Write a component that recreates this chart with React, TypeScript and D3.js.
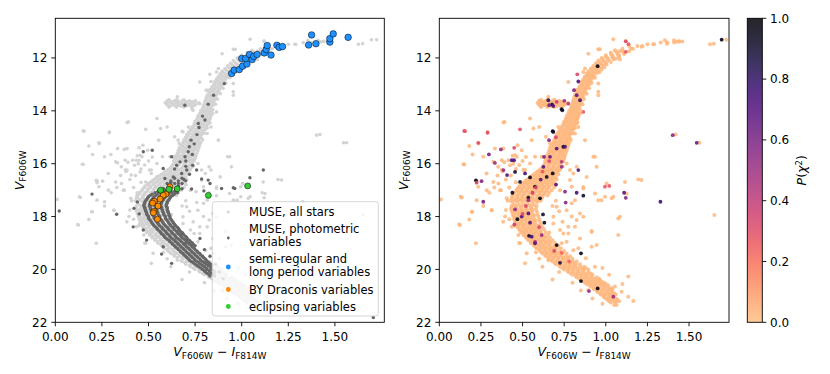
import React from "react";
import * as d3 from "d3";

// colour V-I and magnitude V
// main sequence band of all stars: [V, colours...]
const msRows: [number, number[]][] = [
  [17.55, [0.45, 0.48, 0.51, 0.54, 0.57]],
  [17.65, [0.46, 0.49, 0.52, 0.55]],
  [17.75, [0.44, 0.47, 0.5, 0.53, 0.56]],
  [17.85, [0.455, 0.485, 0.515, 0.545]],
  [17.95, [0.45, 0.48, 0.51, 0.54, 0.57]],
  [18.05, [0.46, 0.49, 0.52, 0.555]],
  [18.15, [0.465, 0.495, 0.525, 0.555, 0.58]],
  [18.25, [0.47, 0.5, 0.535, 0.565]],
  [18.35, [0.475, 0.505, 0.54, 0.57, 0.595]],
  [18.45, [0.485, 0.52, 0.55, 0.58]],
  [18.55, [0.495, 0.525, 0.555, 0.585, 0.61]],
  [18.65, [0.51, 0.54, 0.57, 0.6]],
  [18.75, [0.52, 0.55, 0.58, 0.61, 0.635]],
  [18.85, [0.535, 0.565, 0.595, 0.625]],
  [18.95, [0.55, 0.58, 0.61, 0.64, 0.665]],
  [19.05, [0.565, 0.595, 0.625, 0.655]],
  [19.15, [0.58, 0.61, 0.64, 0.67, 0.695]],
  [19.25, [0.6, 0.63, 0.66, 0.69]],
  [19.35, [0.615, 0.645, 0.675, 0.705, 0.73]],
  [19.45, [0.635, 0.665, 0.695, 0.725]],
  [19.55, [0.655, 0.685, 0.715, 0.745, 0.77]],
  [19.65, [0.675, 0.705, 0.735, 0.765]],
  [19.75, [0.695, 0.725, 0.755, 0.785, 0.81]],
  [19.85, [0.72, 0.75, 0.78, 0.81]],
  [19.95, [0.74, 0.77, 0.8, 0.83, 0.86]],
  [20.05, [0.77, 0.8, 0.83, 0.86]],
  [20.15, [0.79, 0.82, 0.85, 0.88, 0.91]],
  [20.25, [0.82, 0.85, 0.88, 0.91]],
  [20.35, [0.84, 0.87, 0.9, 0.93, 0.96]],
  [20.45, [0.865, 0.895, 0.925, 0.955]],
  [20.55, [0.885, 0.915, 0.945, 0.975, 1.0]],
  [20.65, [0.91, 0.94, 0.97, 1.0]],
  [20.75, [0.93, 0.96, 0.99, 1.02, 1.04]],
  [20.85, [0.95, 0.98, 1.01, 1.04]],
  [20.95, [0.97, 1.0, 1.03, 1.06]],
  [21.05, [0.99, 1.02, 1.05]],
  [21.15, [1.01, 1.04, 1.07]],
  [21.25, [1.03, 1.06]],
  [21.35, [1.05]],
];
const msRowsB: [number, number[]][] = [
  [17.6, [0.435, 0.465, 0.495, 0.525, 0.555, 0.585]],
  [17.7, [0.43, 0.46, 0.49, 0.52, 0.55, 0.58]],
  [17.8, [0.435, 0.465, 0.495, 0.525, 0.555, 0.585]],
  [17.9, [0.44, 0.47, 0.5, 0.53, 0.56, 0.59]],
  [18.0, [0.445, 0.475, 0.505, 0.535, 0.565, 0.595]],
  [18.1, [0.45, 0.48, 0.51, 0.54, 0.57, 0.6]],
  [18.2, [0.455, 0.485, 0.515, 0.545, 0.575, 0.605]],
  [18.3, [0.46, 0.49, 0.52, 0.55, 0.58, 0.61]],
  [18.4, [0.47, 0.5, 0.53, 0.56, 0.59, 0.62]],
  [18.5, [0.48, 0.51, 0.54, 0.57, 0.6, 0.63]],
  [18.6, [0.49, 0.52, 0.55, 0.58, 0.61, 0.64]],
  [18.7, [0.505, 0.535, 0.565, 0.595, 0.625, 0.655]],
  [18.8, [0.52, 0.55, 0.58, 0.61, 0.64, 0.665]],
  [18.9, [0.535, 0.565, 0.595, 0.625, 0.655, 0.68]],
  [19.0, [0.55, 0.58, 0.61, 0.64, 0.67, 0.695]],
  [19.1, [0.57, 0.6, 0.63, 0.66, 0.69, 0.715]],
  [19.2, [0.585, 0.615, 0.645, 0.675, 0.705, 0.73]],
  [19.3, [0.605, 0.635, 0.665, 0.695, 0.725, 0.75]],
  [19.4, [0.62, 0.65, 0.68, 0.71, 0.74, 0.765]],
  [19.5, [0.64, 0.67, 0.7, 0.73, 0.76, 0.785]],
  [19.6, [0.655, 0.685, 0.715, 0.745, 0.775, 0.8]],
  [19.7, [0.68, 0.71, 0.74, 0.77, 0.8, 0.825]],
  [19.8, [0.7, 0.73, 0.76, 0.79, 0.82, 0.845]],
  [19.9, [0.725, 0.755, 0.785, 0.815, 0.845, 0.87]],
  [20.0, [0.75, 0.78, 0.81, 0.84, 0.87, 0.895]],
  [20.1, [0.775, 0.805, 0.835, 0.865, 0.895]],
  [20.2, [0.8, 0.83, 0.86, 0.89, 0.92]],
  [20.3, [0.825, 0.855, 0.885, 0.915, 0.945]],
  [20.4, [0.85, 0.88, 0.91, 0.94, 0.965]],
  [20.5, [0.875, 0.905, 0.935, 0.965, 0.99]],
  [20.6, [0.9, 0.93, 0.96, 0.99, 1.015]],
  [20.7, [0.925, 0.955, 0.985, 1.015, 1.035]],
  [20.8, [0.945, 0.975, 1.005, 1.03]],
  [20.9, [0.965, 0.995, 1.025, 1.05]],
  [21.0, [0.985, 1.015, 1.045]],
  [21.1, [1.0, 1.03, 1.06]],
  [21.2, [1.02, 1.05, 1.08]],
];

// turnoff and subgiant branch
const toRows: [number, number[]][] = [
  [17.45, [0.44, 0.47, 0.5, 0.53, 0.56, 0.59]],
  [17.35, [0.45, 0.48, 0.51, 0.54, 0.57, 0.6]],
  [17.25, [0.44, 0.47, 0.5, 0.53, 0.56, 0.59, 0.62]],
  [17.15, [0.45, 0.48, 0.51, 0.54, 0.57, 0.6, 0.63]],
  [17.05, [0.46, 0.49, 0.52, 0.55, 0.58, 0.61, 0.64]],
  [16.95, [0.47, 0.5, 0.53, 0.56, 0.59, 0.62, 0.65]],
  [16.85, [0.48, 0.51, 0.54, 0.57, 0.6, 0.63, 0.66]],
  [16.75, [0.5, 0.53, 0.56, 0.59, 0.62, 0.65, 0.68]],
  [16.65, [0.52, 0.55, 0.58, 0.61, 0.64, 0.67]],
  [16.55, [0.54, 0.57, 0.6, 0.63, 0.66, 0.69]],
  [16.45, [0.56, 0.59, 0.62, 0.65, 0.68]],
  [16.35, [0.58, 0.61, 0.64, 0.67, 0.7]],
  [16.25, [0.6, 0.63, 0.66, 0.69, 0.72]],
  [16.15, [0.62, 0.65, 0.68, 0.71]],
  [16.05, [0.63, 0.66, 0.69, 0.72]],
];
const toRowsB: [number, number[]][] = [
  [17.4, [0.43, 0.46, 0.49, 0.52, 0.55, 0.58, 0.61]],
  [17.3, [0.435, 0.465, 0.495, 0.525, 0.555, 0.585, 0.615]],
  [17.2, [0.44, 0.47, 0.5, 0.53, 0.56, 0.59, 0.62, 0.65]],
  [17.1, [0.45, 0.48, 0.51, 0.54, 0.57, 0.6, 0.63, 0.66]],
  [17.0, [0.465, 0.495, 0.525, 0.555, 0.585, 0.615, 0.645, 0.675]],
  [16.9, [0.48, 0.51, 0.54, 0.57, 0.6, 0.63, 0.66, 0.69]],
  [16.8, [0.495, 0.525, 0.555, 0.585, 0.615, 0.645, 0.675, 0.7]],
  [16.7, [0.51, 0.54, 0.57, 0.6, 0.63, 0.66, 0.69]],
  [16.6, [0.53, 0.56, 0.59, 0.62, 0.65, 0.68, 0.705]],
  [16.5, [0.55, 0.58, 0.61, 0.64, 0.67, 0.7]],
  [16.4, [0.57, 0.6, 0.63, 0.66, 0.69, 0.715]],
  [16.3, [0.59, 0.62, 0.65, 0.68, 0.71]],
  [16.2, [0.61, 0.64, 0.67, 0.7, 0.725]],
  [16.1, [0.625, 0.655, 0.685, 0.715, 0.74]],
  [16.0, [0.635, 0.665, 0.695, 0.725]],
];

// red giant branch
const rgbRows: [number, number[]][] = [
  [15.95, [0.645, 0.675, 0.705]],
  [15.85, [0.65, 0.68, 0.71, 0.735]],
  [15.75, [0.655, 0.685, 0.715]],
  [15.65, [0.66, 0.69, 0.72, 0.745]],
  [15.55, [0.67, 0.7, 0.73]],
  [15.45, [0.675, 0.705, 0.735, 0.755]],
  [15.35, [0.685, 0.715, 0.745]],
  [15.25, [0.69, 0.72, 0.75, 0.77]],
  [15.15, [0.7, 0.73, 0.76]],
  [15.05, [0.705, 0.735, 0.765, 0.785]],
  [14.95, [0.715, 0.745, 0.775]],
  [14.85, [0.72, 0.75, 0.78, 0.8]],
  [14.75, [0.73, 0.76, 0.79]],
  [14.65, [0.74, 0.77, 0.8, 0.815]],
  [14.55, [0.75, 0.78, 0.81]],
  [14.45, [0.755, 0.785, 0.815, 0.83]],
  [14.35, [0.765, 0.795, 0.82]],
  [14.25, [0.775, 0.8, 0.83]],
  [14.15, [0.78, 0.81, 0.835]],
  [14.05, [0.79, 0.815, 0.84]],
  [13.95, [0.795, 0.82, 0.845]],
  [13.85, [0.8, 0.83]],
  [13.75, [0.805, 0.835, 0.86]],
  [13.65, [0.81, 0.84]],
  [13.55, [0.815, 0.845, 0.87]],
  [13.45, [0.825, 0.855]],
  [13.35, [0.83, 0.86, 0.885]],
  [13.25, [0.84, 0.87]],
  [13.15, [0.845, 0.875, 0.9]],
  [13.05, [0.855, 0.885]],
  [12.95, [0.86, 0.89, 0.915]],
  [12.85, [0.87, 0.9]],
  [12.75, [0.88, 0.91, 0.935]],
  [12.65, [0.89, 0.92]],
  [12.55, [0.9, 0.93, 0.96]],
  [12.45, [0.915, 0.945, 0.975]],
  [12.35, [0.93, 0.96, 0.99]],
  [12.25, [0.945, 0.975, 1.005]],
  [12.15, [0.96, 0.995, 1.03]],
  [12.05, [0.98, 1.015, 1.05]],
  [11.95, [1.0, 1.04, 1.08]],
  [11.85, [1.03, 1.07, 1.11]],
  [11.75, [1.06, 1.1, 1.14]],
  [11.65, [1.1, 1.15]],
  [11.55, [1.14, 1.19, 1.22]],
  [11.48, [1.25, 1.29]],
  [11.42, [1.33, 1.37, 1.41]],
  [11.38, [1.44, 1.46]],
];
const rgbRowsB: [number, number[]][] = [
  [15.9, [0.635, 0.66, 0.69, 0.72, 0.745]],
  [15.8, [0.64, 0.67, 0.7, 0.725, 0.75]],
  [15.7, [0.645, 0.675, 0.705, 0.73, 0.755]],
  [15.6, [0.655, 0.685, 0.715, 0.74, 0.76]],
  [15.5, [0.66, 0.69, 0.72, 0.745, 0.765]],
  [15.4, [0.665, 0.695, 0.725, 0.75, 0.77]],
  [15.3, [0.675, 0.705, 0.73, 0.755, 0.775]],
  [15.2, [0.685, 0.71, 0.735, 0.76, 0.78]],
  [15.1, [0.69, 0.72, 0.745, 0.77, 0.79]],
  [15.0, [0.7, 0.73, 0.755, 0.78]],
  [14.9, [0.705, 0.735, 0.76, 0.785]],
  [14.8, [0.715, 0.745, 0.77, 0.795]],
  [14.7, [0.725, 0.755, 0.78, 0.805]],
  [14.6, [0.735, 0.765, 0.79, 0.81]],
  [14.5, [0.745, 0.77, 0.795, 0.82]],
  [14.4, [0.75, 0.775, 0.8, 0.825]],
  [14.3, [0.76, 0.785, 0.81, 0.83]],
  [14.2, [0.765, 0.79, 0.815, 0.835]],
  [14.1, [0.775, 0.8, 0.825, 0.845]],
  [14.0, [0.78, 0.805, 0.83]],
  [13.9, [0.79, 0.815, 0.835]],
  [13.8, [0.795, 0.82, 0.845]],
  [13.7, [0.8, 0.825, 0.85]],
  [13.6, [0.805, 0.83, 0.855]],
  [13.5, [0.81, 0.835, 0.86]],
  [13.4, [0.815, 0.84, 0.865]],
  [13.3, [0.825, 0.85, 0.875]],
  [13.2, [0.83, 0.855, 0.88]],
  [13.1, [0.84, 0.865, 0.89]],
  [13.0, [0.85, 0.875, 0.9]],
  [12.9, [0.855, 0.88, 0.905]],
  [12.8, [0.865, 0.89, 0.915]],
  [12.7, [0.875, 0.9, 0.925]],
  [12.6, [0.885, 0.91, 0.94]],
  [12.5, [0.895, 0.925, 0.955]],
  [12.4, [0.91, 0.94, 0.97]],
  [12.3, [0.925, 0.955, 0.985]],
  [12.2, [0.94, 0.97, 1.0]],
  [12.1, [0.955, 0.985, 1.015]],
  [12.0, [0.975, 1.01, 1.045]],
  [11.9, [1.0, 1.04, 1.08]],
  [11.8, [1.03, 1.07, 1.11]],
];

// horizontal branch clump
const clumpRows: [number, number[]][] = [
  [13.58, [0.61, 0.65, 0.69]],
  [13.62, [0.6, 0.64, 0.68, 0.72]],
  [13.66, [0.605, 0.625, 0.66, 0.7, 0.735]],
  [13.7, [0.59, 0.62, 0.65, 0.68, 0.71, 0.74, 0.77]],
  [13.74, [0.6, 0.635, 0.665, 0.695, 0.725, 0.755]],
  [13.78, [0.6, 0.63, 0.66, 0.69, 0.72, 0.75]],
  [13.82, [0.615, 0.645, 0.675, 0.705, 0.74]],
  [13.86, [0.61, 0.65, 0.69, 0.73]],
];

// scattered stars
const fieldStars: [number, number][] = [
  [0.12, 18.3], [0.134, 17.28], [0.15, 16.03], [0.18, 18.11], [0.198, 17.82], [0.224, 17.38],
  [0.22, 19.01], [0.234, 16.87], [0.18, 15.33], [0.2, 15.65], [0.264, 17.6], [0.314, 17.76],
  [0.284, 16.37], [0.354, 16.12], [0.334, 15.43], [0.385, 14.44], [0.385, 15.43], [0.455, 15.68],
  [0.545, 14.29], [0.565, 14.67], [0.6, 14.61], [0.64, 14.98], [0.665, 15.24], [0.685, 15.55],
  [0.785, 16.24], [0.795, 16.87], [0.815, 17.38], [0.865, 16.94], [0.935, 17.13], [0.935, 15.74],
  [0.945, 16.12], [0.975, 17.38], [0.995, 17.25], [1.035, 17.31], [1.075, 18.07], [1.075, 18.7],
  [1.195, 16.6], [0.915, 18.55], [0.795, 18.0], [0.815, 18.39], [0.845, 17.88], [0.765, 17.76],
  [0.775, 18.64], [0.88, 19.58], [0.915, 19.14], [0.835, 19.2], [0.735, 19.01], [0.725, 18.51],
  [0.685, 18.26], [0.695, 19.39], [0.655, 19.65], [0.68, 20.38], [0.775, 19.65], [0.935, 19.9],
  [0.975, 20.46], [1.055, 20.65], [1.095, 20.84], [1.165, 21.19], [1.135, 21.03], [1.065, 21.35],
  [1.045, 20.97], [0.895, 20.78], [1.135, 20.27], [1.652, 17.94], [0.515, 19.77], [0.525, 19.39],
  [0.475, 18.7], [0.395, 18.0], [0.435, 17.63], [0.355, 16.75], [0.415, 15.87], [0.445, 16.0],
  [0.495, 15.49], [0.555, 15.11], [0.575, 15.74], [0.515, 16.24], [0.545, 16.5], [0.615, 15.74],
  [0.655, 13.47], [0.775, 12.91], [0.815, 13.22], [0.865, 12.53], [0.875, 12.4], [0.915, 12.72],
  [0.955, 12.97], [0.955, 13.41], [0.835, 14.61], [0.815, 14.86], [0.875, 15.11], [0.715, 14.61],
  [1.055, 11.71], [0.955, 11.67], [0.895, 11.84], [0.01, 17.35], [0.29, 14.8], [0.392, 14.42],
  [0.236, 15.24], [0.145, 16.02], [0.225, 16.66], [0.129, 17.25], [1.42, 14.9], [1.563, 15.21],
  [1.214, 16.62], [1.125, 17.13], [1.045, 11.29], [1.12, 11.36], [1.215, 11.58], [1.285, 11.48],
  [1.355, 11.33], [1.367, 11.46], [1.41, 11.33], [1.426, 11.39], [1.44, 11.37], [1.626, 11.48],
  [0.965, 11.67], [1.085, 11.74], [1.163, 11.65], [1.04, 11.98], [1.065, 12.02], [1.085, 12.06],
  [0.955, 13.28], [1.649, 11.46], [1.724, 11.31], [0.38, 16.3], [0.4, 16.6], [0.42, 16.9],
  [0.44, 17.2], [0.41, 17.4], [0.37, 17.0], [0.43, 16.45], [0.46, 16.2], [0.48, 16.05],
  [0.5, 15.9], [0.39, 15.95], [0.35, 16.45], [0.33, 16.9], [0.3, 17.1], [0.46, 16.7],
  [0.44, 15.7], [0.52, 15.75], [0.47, 15.3], [0.4, 17.75], [0.42, 18.1], [0.45, 18.35],
  [0.48, 19.0], [0.6, 19.6], [0.62, 19.9], [0.58, 19.35], [0.72, 20.1], [0.8, 20.5],
  [0.85, 20.8], [0.92, 21.1], [0.98, 21.3], [1.1, 20.55], [1.02, 20.2], [0.98, 19.95],
  [0.88, 19.95], [0.7, 17.4], [0.72, 17.8], [0.66, 18.6], [0.74, 18.2], [0.68, 17.6],
];
const fieldStarsB: [number, number][] = [
  [0.264, 15.74], [0.324, 15.93], [0.375, 15.87], [0.425, 16.06], [0.375, 16.24], [0.324, 16.69],
  [0.365, 17.0], [0.315, 17.76], [0.384, 18.2], [0.195, 17.82], [0.124, 18.32], [0.285, 17.0],
  [0.405, 17.31], [0.435, 18.39], [0.485, 19.01], [0.505, 18.58], [0.785, 16.62], [0.805, 16.37],
  [0.865, 16.88], [0.925, 15.74], [0.955, 17.38], [0.865, 18.01], [0.825, 18.13], [0.775, 18.39],
  [0.745, 18.64], [0.765, 18.95], [0.845, 18.83], [0.915, 18.58], [0.945, 19.08], [0.805, 19.27],
  [0.725, 17.0], [0.705, 17.63], [0.685, 18.01], [0.795, 17.5], [1.005, 16.75], [1.045, 17.25],
  [1.085, 18.01], [1.115, 16.69], [0.765, 15.99], [0.825, 16.12], [0.885, 16.5], [0.745, 15.74],
  [0.465, 15.74], [0.505, 16.24], [0.545, 15.99],
];

// photometric variables (dark grey): band rows and scattered ones
const varRows: [number, number[]][] = [
  [16.55, [0.64, 0.68]],
  [16.65, [0.62, 0.66, 0.7]],
  [16.75, [0.6, 0.64, 0.68]],
  [16.85, [0.62, 0.66]],
  [16.95, [0.58, 0.61, 0.645, 0.68]],
  [17.05, [0.55, 0.58, 0.61, 0.64]],
  [17.15, [0.52, 0.55, 0.58, 0.61, 0.64]],
  [17.25, [0.5, 0.53, 0.56, 0.59, 0.62]],
  [17.35, [0.49, 0.52, 0.55, 0.58, 0.61]],
  [17.45, [0.48, 0.51, 0.54, 0.57, 0.6]],
  [17.55, [0.475, 0.505, 0.535, 0.565, 0.595]],
  [17.65, [0.48, 0.51, 0.54, 0.57, 0.6]],
  [17.75, [0.485, 0.515, 0.545, 0.575, 0.6]],
  [17.85, [0.49, 0.52, 0.55, 0.58, 0.605]],
  [17.95, [0.495, 0.525, 0.555, 0.585, 0.61]],
  [18.05, [0.5, 0.53, 0.56, 0.59, 0.615]],
  [18.15, [0.51, 0.54, 0.57, 0.6, 0.625]],
  [18.25, [0.52, 0.55, 0.58, 0.61, 0.635]],
  [18.35, [0.53, 0.56, 0.59, 0.62, 0.645]],
  [18.45, [0.545, 0.575, 0.605, 0.635, 0.66]],
  [18.55, [0.56, 0.59, 0.62, 0.65, 0.67]],
  [18.65, [0.57, 0.6, 0.63, 0.66, 0.685]],
  [18.75, [0.585, 0.615, 0.645, 0.675, 0.7]],
  [18.85, [0.6, 0.63, 0.66, 0.69, 0.71]],
  [18.95, [0.615, 0.645, 0.675, 0.705, 0.725]],
  [19.05, [0.63, 0.66, 0.69, 0.72, 0.74]],
  [19.15, [0.645, 0.675, 0.705, 0.735]],
  [19.25, [0.66, 0.69, 0.72, 0.75]],
  [19.35, [0.675, 0.705, 0.735, 0.765]],
  [19.45, [0.69, 0.72, 0.75, 0.78]],
  [19.55, [0.705, 0.735, 0.765, 0.795]],
  [19.65, [0.72, 0.75, 0.78, 0.81]],
  [19.75, [0.74, 0.77, 0.8, 0.825]],
  [19.85, [0.76, 0.79, 0.82, 0.84]],
  [19.95, [0.78, 0.81, 0.835]],
  [20.05, [0.8, 0.825, 0.85]],
  [20.15, [0.815, 0.84]],
  [20.25, [0.83, 0.855]],
];
const varRowsB: [number, number[]][] = [
  [17.0, [0.56, 0.59, 0.62, 0.65]],
  [17.1, [0.535, 0.565, 0.595, 0.625, 0.655]],
  [17.2, [0.51, 0.54, 0.57, 0.6, 0.63]],
  [17.3, [0.495, 0.525, 0.555, 0.585, 0.615]],
  [17.4, [0.485, 0.515, 0.545, 0.575, 0.605]],
  [17.5, [0.48, 0.51, 0.54, 0.57, 0.6]],
  [17.6, [0.475, 0.505, 0.535, 0.565, 0.595]],
  [17.7, [0.48, 0.51, 0.54, 0.57, 0.6]],
  [17.8, [0.485, 0.515, 0.545, 0.575, 0.605]],
  [17.9, [0.49, 0.52, 0.55, 0.58, 0.61]],
  [18.0, [0.5, 0.53, 0.56, 0.59, 0.615]],
  [18.1, [0.505, 0.535, 0.565, 0.595, 0.62]],
  [18.2, [0.515, 0.545, 0.575, 0.605, 0.63]],
  [18.3, [0.525, 0.555, 0.585, 0.615, 0.64]],
  [18.4, [0.54, 0.57, 0.6, 0.63, 0.655]],
  [18.5, [0.55, 0.58, 0.61, 0.64, 0.665]],
  [18.6, [0.565, 0.595, 0.625, 0.655, 0.68]],
  [18.7, [0.58, 0.61, 0.64, 0.67, 0.69]],
  [18.8, [0.59, 0.62, 0.65, 0.68, 0.705]],
  [18.9, [0.61, 0.64, 0.67, 0.7, 0.72]],
  [19.0, [0.625, 0.655, 0.685, 0.715, 0.735]],
  [19.1, [0.64, 0.67, 0.7, 0.73, 0.75]],
  [19.2, [0.655, 0.685, 0.715, 0.745]],
  [19.3, [0.67, 0.7, 0.73, 0.76]],
  [19.4, [0.685, 0.715, 0.745, 0.775]],
  [19.5, [0.7, 0.73, 0.76, 0.79]],
  [19.6, [0.715, 0.745, 0.775, 0.805]],
  [19.7, [0.73, 0.76, 0.79, 0.815]],
  [19.8, [0.75, 0.78, 0.81, 0.835]],
  [19.9, [0.77, 0.8, 0.83]],
  [20.0, [0.79, 0.815, 0.84]],
  [20.1, [0.805, 0.83, 0.855]],
  [20.2, [0.825, 0.85]],
];

const varStars: [number, number][] = [
  [0.52, 15.49], [0.728, 15.11], [0.719, 15.36], [0.713, 15.55], [0.771, 14.63], [0.767, 14.48],
  [0.849, 13.41], [0.907, 12.97], [1.116, 16.24], [1.044, 16.53], [0.955, 16.91], [0.892, 16.94],
  [0.83, 16.75], [0.785, 16.58], [0.758, 16.24], [0.737, 16.06], [0.696, 15.74], [0.705, 16.24],
  [0.678, 16.37], [0.651, 16.06], [0.633, 16.5], [0.588, 16.56], [0.579, 16.18], [0.472, 15.55],
  [0.197, 17.15], [0.329, 17.91], [0.021, 17.79], [0.422, 17.69], [0.418, 18.39], [0.472, 18.51],
  [0.49, 18.89], [0.579, 19.14], [0.57, 19.42], [0.624, 19.77], [0.678, 18.64], [0.797, 17.03],
  [0.731, 16.96], [1.706, 21.82], [0.697, 19.01], [0.776, 18.83], [0.7, 15.9], [0.72, 16.4],
  [0.69, 16.6], [0.66, 16.75], [0.745, 15.25], [0.735, 15.65], [0.76, 14.9], [0.79, 14.2],
  [0.82, 13.75], [0.62, 16.7], [0.64, 16.2], [0.7, 16.1], [0.45, 17.9], [0.44, 17.45],
  [0.83, 19.5], [0.86, 19.8], [0.88, 20.1], [0.9, 20.35], [0.8, 19.25], [0.695, 13.79],
  [0.803, 14.35], [0.669, 15.93], [0.624, 15.74], [0.82, 16.62], [0.963, 16.94],
];

// classified variables
const srlpVars: [number, number][] = [
  [0.946, 12.59], [0.96, 12.46], [0.987, 12.44], [1.005, 12.31], [1.028, 12.23], [1.0, 12.02],
  [1.021, 12.02], [1.042, 11.87], [1.056, 12.06], [1.065, 11.94], [1.083, 11.87], [1.121, 11.81],
  [1.131, 11.68], [1.137, 11.53], [1.157, 11.89], [1.189, 11.52], [1.201, 11.6], [1.219, 11.57],
  [1.359, 11.51], [1.375, 11.13], [1.398, 11.46], [1.473, 11.4], [1.473, 11.27], [1.491, 11.09],
  [1.571, 11.22],
];
const byDraVars: [number, number][] = [
  [0.615, 16.87], [0.594, 17.15], [0.579, 17.19], [0.562, 17.34], [0.531, 17.42], [0.522, 17.49],
  [0.551, 17.6], [0.529, 17.8], [0.526, 17.86], [0.548, 18.1],
];
const eclVars: [number, number][] = [
  [0.565, 17.0], [0.61, 16.97], [0.654, 16.95], [0.821, 17.2], [1.032, 16.84],
];

// stars with non-zero P(chi^2): [colour, V, P]
const pStars: [number, number, number][] = [
  [1.696, 11.31, 0.95], [0.951, 12.31, 0.95], [1.12, 11.37, 0.3], [1.136, 11.48, 0.25],
  [1.12, 11.77, 0.25], [0.829, 12.62, 0.3], [0.835, 12.89, 0.7], [0.809, 13.22, 0.55],
  [0.845, 13.6, 0.75], [0.655, 13.6, 0.8], [0.677, 13.76, 0.85], [0.66, 13.79, 0.6],
  [0.735, 13.94, 0.95], [0.705, 13.66, 0.35], [0.751, 13.62, 0.5], [0.775, 13.73, 0.4],
  [0.825, 13.41, 0.65], [0.685, 13.82, 0.7], [0.865, 14.04, 0.25], [0.681, 14.77, 0.95],
  [0.685, 14.8, 0.9], [0.485, 14.7, 0.25], [0.29, 14.83, 0.3], [0.154, 14.77, 0.3],
  [0.234, 15.21, 0.3], [0.37, 15.46, 0.5], [0.45, 15.4, 0.3], [0.298, 15.65, 0.6],
  [0.334, 15.97, 0.5], [0.435, 15.87, 0.7], [0.449, 15.87, 0.7], [0.385, 16.24, 0.5],
  [0.407, 16.43, 0.7], [0.455, 16.31, 0.9], [0.515, 16.37, 0.75], [0.545, 16.52, 0.95],
  [0.485, 16.69, 0.9], [0.22, 16.63, 0.95], [0.224, 16.72, 0.35], [0.254, 16.66, 0.55],
  [0.264, 17.44, 0.6], [0.439, 17.1, 0.95], [0.575, 16.87, 0.95], [0.609, 16.6, 0.7],
  [0.645, 16.5, 0.9], [0.681, 16.37, 0.95], [0.701, 16.79, 0.7], [0.735, 16.12, 0.5],
  [0.735, 15.93, 0.4], [0.705, 15.43, 0.7], [0.745, 15.36, 0.9], [0.665, 15.74, 0.65],
  [0.629, 15.74, 0.6], [0.625, 16.12, 0.7], [0.659, 15.11, 0.55], [0.739, 13.98, 0.9],
  [0.755, 15.36, 0.7], [0.835, 16.24, 0.7], [0.755, 17.06, 0.55], [0.825, 17.1, 0.75],
  [0.865, 17.21, 0.9], [0.759, 17.47, 0.55], [0.995, 16.87, 0.25], [1.021, 16.84, 0.25],
  [1.11, 17.1, 0.7], [1.12, 17.29, 0.55], [1.402, 14.92, 0.55], [1.546, 15.21, 0.65],
  [1.328, 17.44, 0.75], [0.605, 17.31, 0.95], [0.535, 17.28, 0.9], [0.535, 17.38, 0.5],
  [0.455, 17.73, 0.5], [0.469, 18.1, 0.95], [0.495, 18.0, 0.7], [0.535, 17.88, 0.7],
  [0.623, 17.92, 0.9], [0.631, 18.23, 0.95], [0.545, 18.23, 0.7], [0.451, 18.3, 0.35],
  [0.539, 18.73, 0.9], [0.555, 18.76, 0.75], [0.575, 18.95, 0.35], [0.575, 19.01, 0.7],
  [0.615, 18.7, 0.5], [0.705, 19.08, 0.95], [0.735, 19.37, 0.2], [0.851, 19.39, 0.95],
  [0.725, 19.75, 0.85], [0.851, 20.44, 0.95], [0.951, 20.72, 0.95], [0.899, 20.82, 0.5],
  [1.045, 21.03, 0.5], [0.15, 14.76, 0.25], [0.58, 16.9, 0.3], [0.62, 16.3, 0.25],
  [0.66, 15.9, 0.3], [0.7, 15.0, 0.3], [0.52, 17.6, 0.3], [0.6, 18.4, 0.3],
  [0.69, 19.3, 0.3], [0.78, 19.7, 0.2], [0.56, 17.1, 0.35], [0.5, 17.9, 0.3],
];

const xTicks = [0, 0.25, 0.5, 0.75, 1.0, 1.25, 1.5];
const yTicks = [12, 14, 16, 18, 20, 22];
const cbTicks = [0, 0.2, 0.4, 0.6, 0.8, 1.0];

const rowsToPoints = (rows: [number, number[]][]) =>
  rows.flatMap(([v, cs]) => cs.map((c) => [c, v] as [number, number]));

const allStars: [number, number][] = [
  ...rowsToPoints(msRows),
  ...rowsToPoints(msRowsB),
  ...rowsToPoints(toRows),
  ...rowsToPoints(toRowsB),
  ...rowsToPoints(rgbRows),
  ...rowsToPoints(rgbRowsB),
  ...rowsToPoints(clumpRows),
  ...fieldStars,
  ...fieldStarsB,
];
const photVars: [number, number][] = [
  ...rowsToPoints(varRows),
  ...rowsToPoints(varRowsB),
  ...varStars,
];

const FONT = "DejaVu Sans, sans-serif";
const TOP = 18.3;
const BOTTOM = 322.3;

const y = d3.scaleLinear().domain([10.5, 22]).range([TOP, BOTTOM]);
const xL = d3.scaleLinear().domain([0, 1.765]).range([55.3, 384.3]);
const xR = d3.scaleLinear().domain([0, 1.74]).range([439.3, 729]);
const cbY = d3.scaleLinear().domain([0, 1]).range([BOTTOM, TOP]);
const cmap = (p: number) => d3.interpolateMagma(0.87 * (1 - p));
const ptColor = (p: number) => d3.interpolateMagma(0.85 * (1 - p));
const fmtX = d3.format(".2f");
const fmtC = d3.format(".1f");

const Axes = ({ x, ylabX }: { x: d3.ScaleLinear<number, number>; ylabX: number }) => {
  const [x0, x1] = x.range();
  const mid = (x0 + x1) / 2;
  return (
    <g fontFamily={FONT} fill="#000">
      <rect x={x0} y={TOP} width={x1 - x0} height={BOTTOM - TOP} fill="none" stroke="#000" strokeWidth={0.9} />
      {xTicks.map((t) => (
        <g key={t}>
          <line x1={x(t)} x2={x(t)} y1={BOTTOM} y2={BOTTOM + 4} stroke="#000" strokeWidth={0.9} />
          <text x={x(t)} y={340.5} fontSize={12} textAnchor="middle">{fmtX(t)}</text>
        </g>
      ))}
      {yTicks.map((t) => (
        <g key={t}>
          <line x1={x0 - 4} x2={x0} y1={y(t)} y2={y(t)} stroke="#000" strokeWidth={0.9} />
          <text x={x0 - 8} y={y(t) + 4.3} fontSize={12} textAnchor="end">{t}</text>
        </g>
      ))}
      <text x={mid} y={356} fontSize={12.5} textAnchor="middle">
        <tspan fontStyle="italic">V</tspan>
        <tspan fontSize={9} dy={2.5}>F606W</tspan>
        <tspan dy={-2.5}> − </tspan>
        <tspan fontStyle="italic">I</tspan>
        <tspan fontSize={9} dy={2.5}>F814W</tspan>
      </text>
      <text transform={`translate(${ylabX},${(TOP + BOTTOM) / 2}) rotate(-90)`} fontSize={12.5} textAnchor="middle">
        <tspan fontStyle="italic">V</tspan>
        <tspan fontSize={9} dy={2.5}>F606W</tspan>
      </text>
    </g>
  );
};

const Legend = () => {
  const mx = 228.3;
  const tx = 249;
  const fs = 11.5;
  return (
    <g fontFamily={FONT} fontSize={fs}>
      <rect x={212.3} y={201.7} width={166} height={114.3} rx={2.5} fill="#fff" fillOpacity={0.8} stroke="#cccccc" strokeWidth={0.8} />
      <circle cx={mx} cy={212} r={1.4} fill="lightgray" />
      <text x={tx} y={216}>MUSE, all stars</text>
      <circle cx={mx} cy={238} r={1.4} fill="#666" />
      <text x={tx} y={233}>MUSE, photometric</text>
      <text x={tx} y={245.5}>variables</text>
      <circle cx={mx} cy={267} r={2.4} fill="dodgerblue" />
      <text x={tx} y={263}>semi-regular and</text>
      <text x={tx} y={276}>long period variables</text>
      <circle cx={mx} cy={289.5} r={2.4} fill="darkorange" />
      <text x={tx} y={293.5}>BY Draconis variables</text>
      <circle cx={mx} cy={306.5} r={2.4} fill="limegreen" />
      <text x={tx} y={310.5}>eclipsing variables</text>
    </g>
  );
};

export default function App() {
  const gradStops = d3.range(0, 1.0001, 0.05);
  return (
    <svg width={830} height={374} style={{ position: "absolute", left: 0, top: 0, background: "#fff" }}>
      <defs>
        <clipPath id="clipL">
          <rect x={55.3} y={TOP} width={329} height={BOTTOM - TOP} />
        </clipPath>
        <clipPath id="clipR">
          <rect x={439.3} y={TOP} width={289.7} height={BOTTOM - TOP} />
        </clipPath>
        <linearGradient id="cbar" x1="0" y1="1" x2="0" y2="0">
          {gradStops.map((p) => (
            <stop key={p} offset={p} stopColor={cmap(p)} stopOpacity={0.85} />
          ))}
        </linearGradient>
      </defs>

      {/* left panel */}
      <g clipPath="url(#clipL)">
        {allStars.concat(pStars.map(([c, v]) => [c, v] as [number, number])).map(([c, v], i) => (
          <circle key={"a" + i} cx={xL(c)} cy={y(v)} r={1.8} fill="lightgray" />
        ))}
        {photVars.map(([c, v], i) => (
          <circle key={"p" + i} cx={xL(c)} cy={y(v)} r={1.7} fill="#666" />
        ))}
        {srlpVars.map(([c, v], i) => (
          <circle key={"s" + i} cx={xL(c)} cy={y(v)} r={3.3} fill="dodgerblue" stroke="#000" strokeWidth={0.5} />
        ))}
        {byDraVars.map(([c, v], i) => (
          <circle key={"b" + i} cx={xL(c)} cy={y(v)} r={3} fill="darkorange" stroke="#000" strokeWidth={0.5} />
        ))}
        {eclVars.map(([c, v], i) => (
          <circle key={"e" + i} cx={xL(c)} cy={y(v)} r={3} fill="limegreen" stroke="#000" strokeWidth={0.5} />
        ))}
      </g>
      <Legend />
      <Axes x={xL} ylabX={23.5} />

      {/* right panel */}
      <g clipPath="url(#clipR)">
        {allStars.map(([c, v], i) => (
          <circle key={"r" + i} cx={xR(c)} cy={y(v)} r={2} fill={ptColor(0)} fillOpacity={0.85} />
        ))}
        {pStars.map(([c, v, p], i) => (
          <circle key={"q" + i} cx={xR(c)} cy={y(v)} r={1.9} fill={ptColor(p)} fillOpacity={0.9} />
        ))}
      </g>
      <Axes x={xR} ylabX={407.5} />

      {/* colour bar */}
      <g fontFamily={FONT}>
        <rect x={747.3} y={TOP} width={15} height={BOTTOM - TOP} fill="url(#cbar)" stroke="#000" strokeWidth={0.9} />
        {cbTicks.map((t) => (
          <g key={t}>
            <line x1={762.3} x2={766.3} y1={cbY(t)} y2={cbY(t)} stroke="#000" strokeWidth={0.9} />
            <text x={770} y={cbY(t) + 4.3} fontSize={12}>{fmtC(t)}</text>
          </g>
        ))}
        <text transform={`translate(806,${(TOP + BOTTOM) / 2}) rotate(-90)`} fontSize={12.5} textAnchor="middle">
          <tspan fontStyle="italic">P</tspan>
          <tspan>(</tspan>
          <tspan fontStyle="italic">χ</tspan>
          <tspan fontSize={8.5} dy={-4.5}>2</tspan>
          <tspan dy={4.5}>)</tspan>
        </text>
      </g>
    </svg>
  );
}
